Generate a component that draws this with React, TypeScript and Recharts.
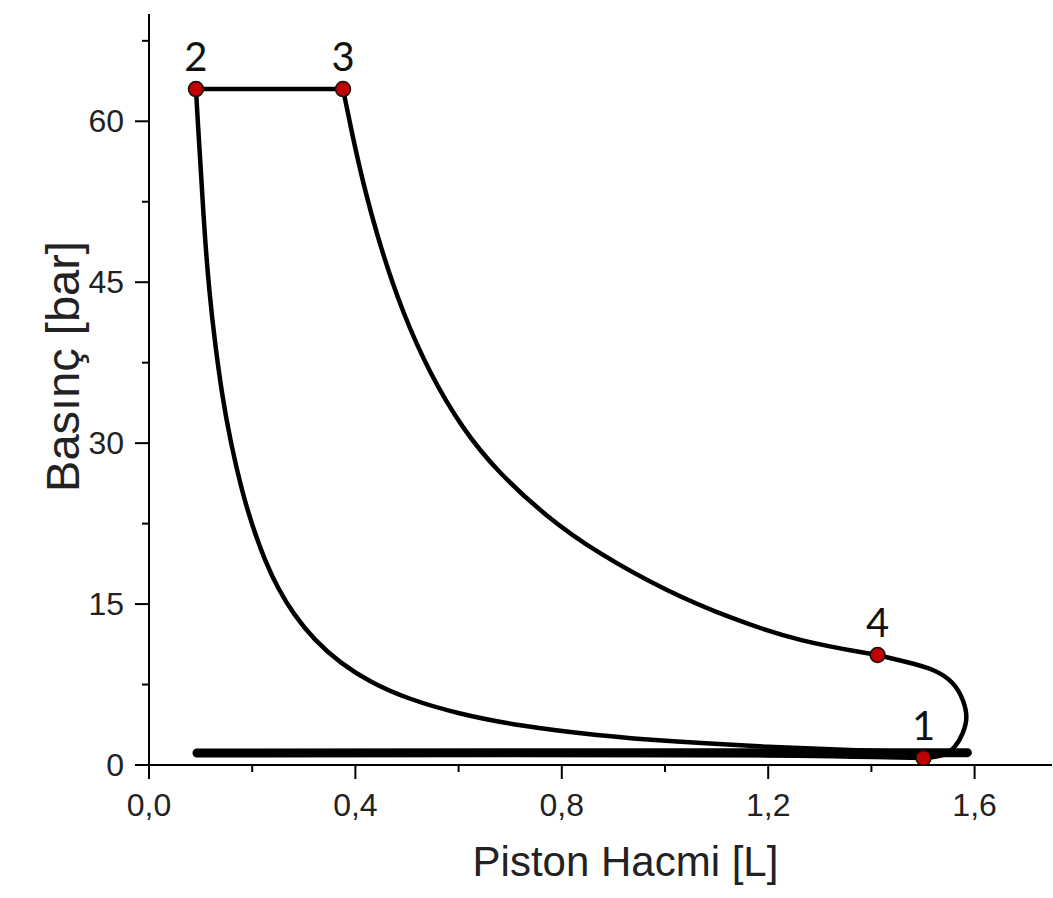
import React from "react";
import {
  ComposedChart,
  Line,
  Scatter,
  XAxis,
  YAxis,
  Label,
} from "recharts";

// state points of the cycle (volume in L, pressure in bar)
const statePoints = [
  { x: 1.501, y: 0.65, label: "1" },
  { x: 0.091, y: 63.0, label: "2" },
  { x: 0.376, y: 63.0, label: "3" },
  { x: 1.412, y: 10.25, label: "4" },
];

// 2 -> 3 constant pressure
const heatAddition = [
  { x: 0.091, y: 63.0 },
  { x: 0.376, y: 63.0 },
];

// 3 -> 4 expansion
const expansion = [
  { x: 0.376, y: 63.0 },
  { x: 0.395, y: 58.5 },
  { x: 0.4145, y: 54.3 },
  { x: 0.448, y: 48.3 },
  { x: 0.492, y: 42.1 },
  { x: 0.544, y: 36.5 },
  { x: 0.608, y: 31.3 },
  { x: 0.674, y: 27.4 },
  { x: 0.771, y: 23.1 },
  { x: 0.868, y: 19.8 },
  { x: 1.003, y: 16.2 },
  { x: 1.131, y: 13.6 },
  { x: 1.261, y: 11.5 },
  { x: 1.412, y: 10.25 },
];

// 4 -> 1 blowdown
const blowdown = [
  { x: 1.412, y: 10.25 },
  { x: 1.468, y: 9.6 },
  { x: 1.519, y: 8.85 },
  { x: 1.557, y: 7.64 },
  { x: 1.577, y: 6.06 },
  { x: 1.584, y: 4.47 },
  { x: 1.577, y: 2.98 },
  { x: 1.561, y: 1.68 },
  { x: 1.538, y: 0.93 },
  { x: 1.501, y: 0.65 },
];

// 1 -> 2 compression
const compression = [
  { x: 0.091, y: 63.0 },
  { x: 0.095, y: 59.6 },
  { x: 0.1, y: 55.8 },
  { x: 0.108, y: 49.3 },
  { x: 0.117, y: 44.05 },
  { x: 0.127, y: 39.66 },
  { x: 0.142, y: 34.33 },
  { x: 0.158, y: 30.13 },
  { x: 0.179, y: 25.73 },
  { x: 0.2, y: 22.31 },
  { x: 0.225, y: 19.0 },
  { x: 0.25, y: 16.45 },
  { x: 0.28, y: 14.06 },
  { x: 0.32, y: 11.67 },
  { x: 0.37, y: 9.51 },
  { x: 0.43, y: 7.68 },
  { x: 0.5, y: 6.19 },
  { x: 0.6, y: 4.75 },
  { x: 0.72, y: 3.63 },
  { x: 0.86, y: 2.79 },
  { x: 1.02, y: 2.155 },
  { x: 1.2, y: 1.68 },
  { x: 1.38, y: 1.36 },
  { x: 1.5, y: 1.19 },
];

// exhaust / intake strokes
const exhaustStroke = [
  { x: 0.093, y: 1.12 },
  { x: 1.586, y: 1.15 },
];

const intakeStroke = [
  { x: 0.3, y: 0.95 },
  { x: 1.2, y: 0.85 },
  { x: 1.501, y: 0.6 },
];

const xTicks = [0, 0.2, 0.4, 0.6, 0.8, 1.0, 1.2, 1.4, 1.6];
const xMajor = [0, 0.4, 0.8, 1.2, 1.6];
const yTicks = [0, 7.5, 15, 22.5, 30, 37.5, 45, 52.5, 60, 67.5];
const yMajor = [0, 15, 30, 45, 60];

const axisFont = "'Liberation Sans', Arial, sans-serif";

const XTick = (props: any) => {
  const { x, y, payload } = props;
  const major = xMajor.some((v) => Math.abs(v - payload.value) < 1e-6);
  return (
    <g>
      <line x1={x} x2={x} y1={y} y2={y + (major ? 14 : 7)} stroke="#000" strokeWidth={2} />
      {major && (
        <text
          x={x}
          y={y + 40}
          textAnchor="middle"
          dominantBaseline="central"
          fontFamily={axisFont}
          fontSize={32}
          fill="#222"
        >
          {payload.value.toFixed(1).replace(".", ",")}
        </text>
      )}
    </g>
  );
};

const YTick = (props: any) => {
  const { x, y, payload } = props;
  const major = yMajor.includes(payload.value);
  return (
    <g>
      <line x1={x} x2={x - (major ? 14 : 7)} y1={y} y2={y} stroke="#000" strokeWidth={2} />
      {major && (
        <text
          x={x - 25}
          y={y}
          textAnchor="end"
          dominantBaseline="central"
          fontFamily={axisFont}
          fontSize={32}
          fill="#222"
        >
          {payload.value}
        </text>
      )}
    </g>
  );
};

const PointShape = (props: any) => {
  const { cx, cy } = props;
  const label = props.payload?.label ?? props.label;
  return (
    <g>
      <circle cx={cx} cy={cy} r={7.5} fill="#c00000" stroke="#111" strokeWidth={1.5} />
      <text
        x={cx}
        y={cy - 18}
        textAnchor="middle"
        fontFamily="Lato, 'Open Sans', sans-serif"
        fontSize={40}
        fill="#111"
      >
        {label}
      </text>
    </g>
  );
};

const YTitle = (props: any) => {
  const { viewBox } = props;
  const cx = viewBox.x + 62;
  const cy = viewBox.y + viewBox.height / 2 - 23;
  return (
    <text
      x={cx}
      y={cy}
      transform={`rotate(-90, ${cx}, ${cy})`}
      textAnchor="middle"
      dominantBaseline="central"
      fontFamily={axisFont}
      fontSize={47}
      fill="#222"
    >
      Basınç [bar]
    </text>
  );
};

const XTitle = (props: any) => {
  const { viewBox } = props;
  return (
    <text
      x={viewBox.x + viewBox.width / 2 + 25}
      y={876}
      textAnchor="middle"
      fontFamily={axisFont}
      fontSize={42}
      fill="#222"
    >
      Piston Hacmi [L]
    </text>
  );
};

const lineProps = {
  dataKey: "y",
  stroke: "#000",
  dot: false,
  activeDot: false,
  isAnimationActive: false,
  legendType: "none" as const,
};

export default function App() {
  return (
    <div style={{ position: "absolute", left: 0, top: 0, background: "#fff" }}>
      <ComposedChart
        width={1053}
        height={898}
        margin={{ top: 14, right: 1, bottom: 0, left: 0 }}
      >
        <XAxis
          type="number"
          dataKey="x"
          domain={[0, 1.75]}
          ticks={xTicks}
          interval={0}
          tickSize={0}
          tickMargin={0}
          tickLine={false}
          tick={<XTick />}
          axisLine={{ stroke: "#000", strokeWidth: 2 }}
          height={133}
          allowDataOverflow
        >
          <Label content={<XTitle />} />
        </XAxis>
        <YAxis
          type="number"
          dataKey="y"
          domain={[0, 70]}
          ticks={yTicks}
          interval={0}
          tickSize={0}
          tickMargin={0}
          tickLine={false}
          tick={<YTick />}
          axisLine={{ stroke: "#000", strokeWidth: 2 }}
          width={149}
          allowDataOverflow
        >
          <Label content={<YTitle />} />
        </YAxis>

        <Line {...lineProps} data={exhaustStroke} type="linear" strokeWidth={9} strokeLinecap="round" />
        <Line {...lineProps} data={intakeStroke} type="monotone" strokeWidth={3.5} />
        <Line {...lineProps} data={compression} type="basis" strokeWidth={4.5} />
        <Line {...lineProps} data={heatAddition} type="linear" strokeWidth={4.5} />
        <Line {...lineProps} data={expansion} type="basis" strokeWidth={4.5} />
        <Line {...lineProps} data={blowdown} type="natural" strokeWidth={4.5} />

        <Scatter
          data={statePoints}
          dataKey="y"
          shape={<PointShape />}
          isAnimationActive={false}
        />
      </ComposedChart>
    </div>
  );
}
